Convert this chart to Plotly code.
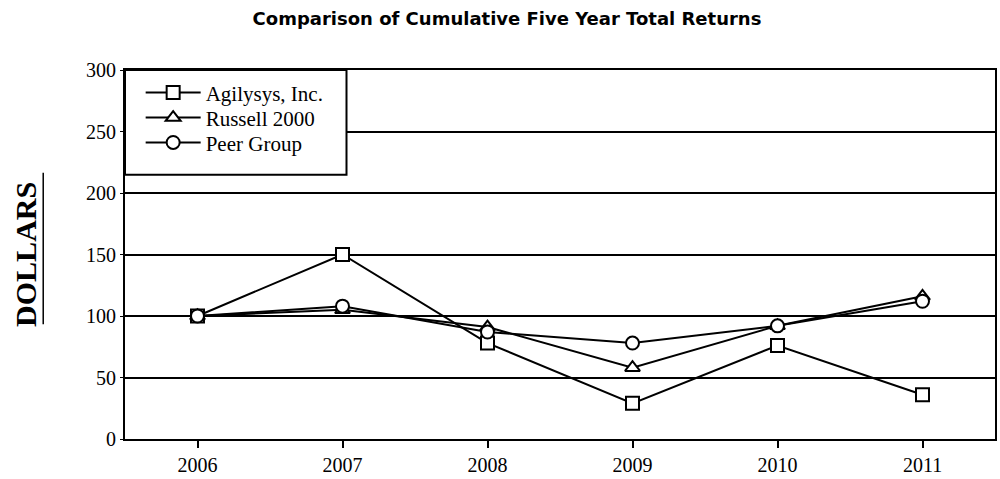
import plotly.graph_objects as go

years = ["2006", "2007", "2008", "2009", "2010", "2011"]
agilysys = [100, 150, 78, 29, 76, 36]
russell = [100, 105, 91, 58, 92, 116]
peer = [100, 108, 87, 78, 92, 112]
y_ticks = [0, 50, 100, 150, 200, 250, 300]

series = [
    ("Agilysys, Inc.", agilysys, "square", "legend"),
    ("Russell 2000", russell, "triangle-up", "legend2"),
    ("Peer Group", peer, "circle", "legend3"),
]

fig = go.Figure()
for name, vals, sym, lg in series:
    fig.add_trace(go.Scatter(
        x=years, y=vals, name=name, mode="lines+markers", legend=lg,
        line=dict(color="black", width=2),
        marker=dict(symbol=sym, size=13, color="white",
                    line=dict(color="black", width=2)),
    ))

serif = "Liberation Serif, Times New Roman, serif"
leg_common = dict(x=0.018, xanchor="left", yanchor="middle",
                  bgcolor="rgba(0,0,0,0)", borderwidth=0, itemwidth=55,
                  font=dict(family=serif, size=21, color="black"))
fig.update_layout(
    width=1000, height=479,
    margin=dict(l=125, r=3, t=70, b=39),
    paper_bgcolor="white", plot_bgcolor="white",
    title=dict(text="<b>Comparison of Cumulative Five Year Total Returns</b>",
               x=0.507, xanchor="center", y=0.961, yanchor="middle",
               font=dict(family="DejaVu Sans, sans-serif", size=18, color="black")),
    font=dict(family=serif, size=20, color="black"),
    showlegend=True,
    legend=dict(y=0.9378, **leg_common),
    legend2=dict(y=0.870, **leg_common),
    legend3=dict(y=0.8027, **leg_common),
    xaxis=dict(type="category", range=[-0.5, 5.5], showgrid=False,
               showline=True, linecolor="black", linewidth=2, mirror=True,
               ticks="outside", ticklen=7, tickwidth=2, tickcolor="black",
               tickfont=dict(family=serif, size=20)),
    yaxis=dict(range=[0, 300], tickvals=y_ticks, showgrid=True,
               gridcolor="black", gridwidth=2, zeroline=False,
               showline=True, linecolor="black", linewidth=2, mirror=True,
               ticks="outside", ticklen=3, tickwidth=1, tickcolor="black",
               tickfont=dict(family=serif, size=20)),
)

# legend frame (white box covering the grid)
fig.add_shape(type="rect", xref="paper", yref="paper",
              x0=0, x1=0.2546, y0=0.716, y1=1, layer="above",
              fillcolor="white", line=dict(color="black", width=2))

fig.add_annotation(
    text="<b>DOLLARS</b>", xref="paper", yref="paper", x=-0.1145, y=0.5,
    xanchor="center", yanchor="middle", textangle=-90, showarrow=False,
    font=dict(family=serif, size=30, color="black"),
)
fig.add_shape(type="line", xref="paper", yref="paper",
              x0=-0.094, x1=-0.094, y0=0.311, y1=0.7216,
              line=dict(color="black", width=1.5))

fig.write_html("out.html", config={"displayModeBar": False},
               post_script="document.body.style.margin='0';document.body.style.overflow='hidden';")
